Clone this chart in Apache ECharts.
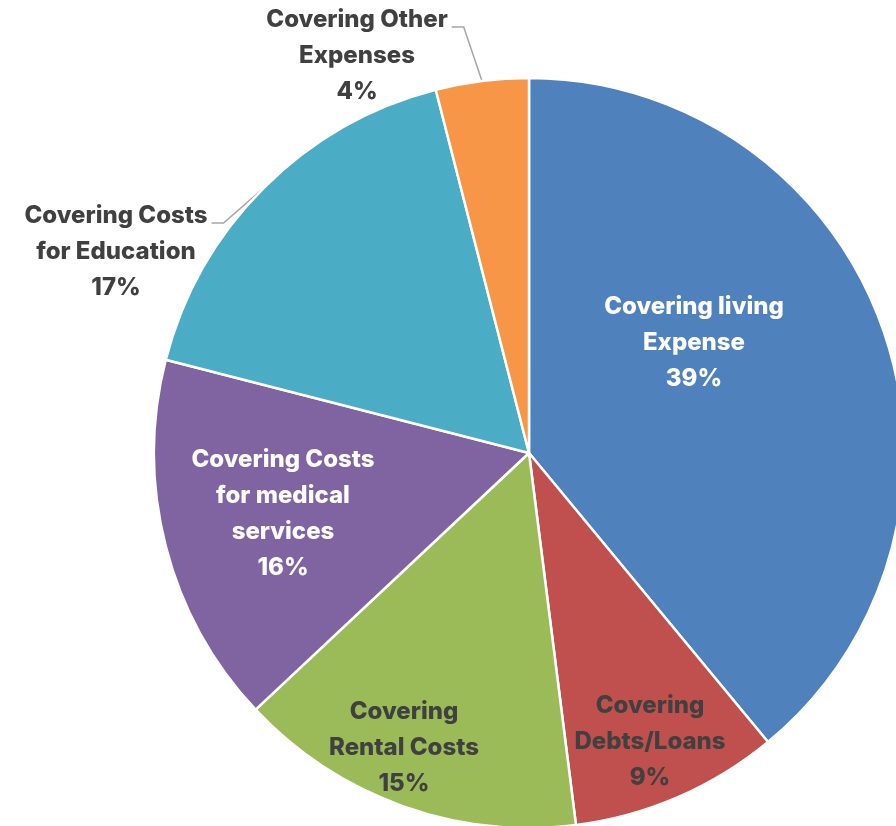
<!DOCTYPE html>
<html>
<head>
<meta charset="utf-8">
<script src="https://cdn.jsdelivr.net/npm/echarts@6/dist/echarts.min.js"></script>
<style>
  html, body { margin: 0; padding: 0; background: #ffffff; }
  #chart { width: 896px; height: 826px; }
</style>
</head>
<body>
<div id="chart"></div>
<script>
// Shares of spending, clockwise from 12 o'clock
const categories = [
  'Covering living\nExpense',
  'Covering\nDebts/Loans',
  'Covering\nRental Costs',
  'Covering Costs\nfor medical\nservices',
  'Covering Costs\nfor Education',
  'Covering Other\nExpenses'
];
const values = [39, 9, 15, 16, 17, 4];
const colors = ['#4F81BD', '#C0504D', '#9BBB59', '#8064A2', '#4BACC6', '#F79646'];
const labelColors = ['#ffffff', '#404040', '#404040', '#ffffff', '#404040', '#404040'];
const outside = [false, false, false, false, true, true];

// Label centres in pixels
const labelCenters = [
  [694, 343], [650, 742], [404, 748], [283, 514], [116, 252], [357, 56]
];
const LINE_H = 36;

const data = categories.map((name, i) => ({
  name: name,
  value: values[i],
  itemStyle: { color: colors[i] },
  label: {
    position: outside[i] ? 'outside' : 'inside',
    color: labelColors[i]
  },
  labelLine: { show: outside[i] }
}));

const chart = echarts.init(document.getElementById('chart'), null, { renderer: 'canvas' });
chart.setOption({
  animation: false,
  backgroundColor: '#ffffff',
  series: [{
    type: 'pie',
    center: [529, 453],
    radius: 375,
    startAngle: 90,
    clockwise: true,
    avoidLabelOverlap: false,
    itemStyle: { borderColor: '#ffffff', borderWidth: 2.5 },
    label: {
      show: true,
      formatter: p => p.name + '\n' + p.value + '%',
      fontFamily: 'Inter, "DejaVu Sans", sans-serif',
      fontWeight: 800,
      fontSize: 24,
      lineHeight: LINE_H,
      align: 'center'
    },
    labelLine: {
      length: 10,
      length2: 12,
      lineStyle: { color: '#A6A6A6', width: 1.5 }
    },
    labelLayout: function (params) {
      const i = params.dataIndex;
      const c = labelCenters[i];
      const out = { x: c[0], y: c[1], align: 'center', verticalAlign: 'middle' };
      if (outside[i] && params.labelLinePoints) {
        // leader: from the slice rim, elbow, then short horizontal into the first text line
        const rim = params.labelLinePoints[0];
        const w = params.labelRect.width;
        const h = params.labelRect.height;
        const sx = c[0] + w / 2 + 4;
        const sy = c[1] - h / 2 + LINE_H / 2 + 7;
        out.labelLinePoints = [rim, [sx + 12, sy], [sx, sy]];
      }
      return out;
    },
    data: data
  }]
});
</script>
</body>
</html>
